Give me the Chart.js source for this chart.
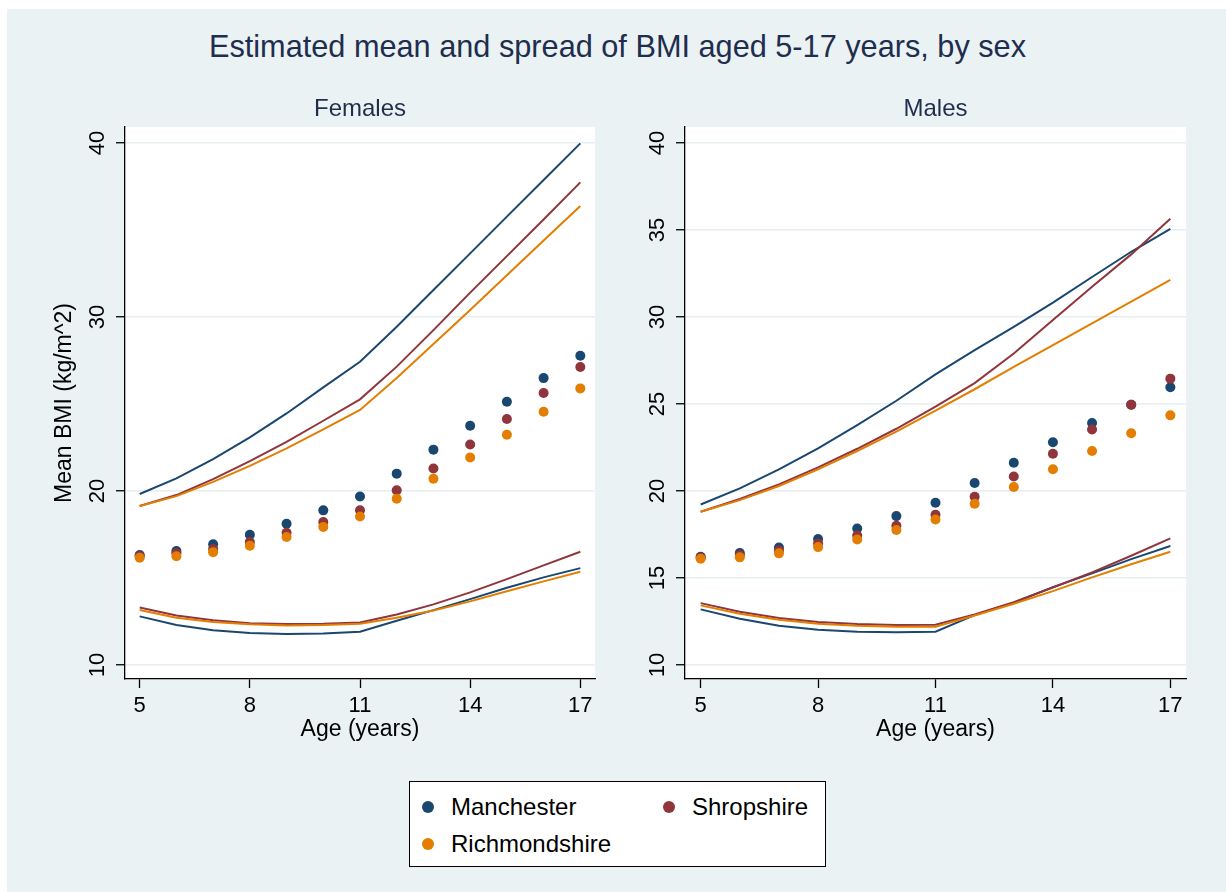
<!DOCTYPE html>
<html>
<head>
<meta charset="utf-8">
<script src="https://cdn.jsdelivr.net/npm/chart.js@4.4.1/dist/chart.umd.min.js"></script>
<style>
  body { margin: 0; background: #fff; font-family: "Liberation Sans", Arial, sans-serif; }
  #frame { position: absolute; left: 7px; top: 9px; width: 1219px; height: 883px; background: #eaf2f3; }
  #title { position: absolute; left: 0; top: 29px; width: 1235px; text-align: center;
           font-size: 30.7px; line-height: 36px; color: #1f2d4e; }
  canvas { position: absolute; }
  #cf { left: 0; top: 92px; }
  #cm { left: 610px; top: 92px; }
  #legend { position: absolute; left: 409px; top: 781px; width: 415px; height: 84px;
            background: #fff; border: 1.5px solid #000; }
  .item { position: absolute; font-size: 24px; line-height: 28px; color: #000; white-space: nowrap; }
  .dot { position: absolute; width: 12px; height: 12px; border-radius: 50%; left: -29px; top: 8px; }
</style>
</head>
<body>
<div id="frame"></div>
<div id="title">Estimated mean and spread of BMI aged 5-17 years, by sex</div>
<canvas id="cf" width="610" height="660"></canvas>
<canvas id="cm" width="616" height="660"></canvas>
<div id="legend"></div>
<script>
const ages = [5, 6, 7, 8, 9, 10, 11, 12, 13, 14, 15, 16, 17];
const xTicks = [5, 8, 11, 14, 17];
const fYTicks = [10, 20, 30, 40];
const mYTicks = [10, 15, 20, 25, 30, 35, 40];

const regions = ['Manchester', 'Shropshire', 'Richmondshire'];
const colors = ['#1a476f', '#90353b', '#e37e00'];

// Females: mean, upper and lower lines
const fManMean = [16.32, 16.55, 16.94, 17.49, 18.12, 18.89, 19.69, 21.00, 22.38, 23.75, 25.13, 26.49, 27.78];
const fShrMean = [16.26, 16.42, 16.67, 17.07, 17.60, 18.22, 18.89, 20.04, 21.30, 22.68, 24.14, 25.63, 27.13];
const fRicMean = [16.17, 16.25, 16.49, 16.86, 17.36, 17.93, 18.54, 19.56, 20.71, 21.93, 23.24, 24.56, 25.90];
const fManUp = [19.83, 20.73, 21.84, 23.08, 24.46, 25.96, 27.43, 29.44, 31.55, 33.66, 35.77, 37.87, 39.98];
const fShrUp = [19.14, 19.77, 20.69, 21.72, 22.83, 24.04, 25.27, 27.15, 29.25, 31.40, 33.50, 35.60, 37.74];
const fRicUp = [19.14, 19.71, 20.53, 21.45, 22.45, 23.54, 24.66, 26.50, 28.45, 30.40, 32.40, 34.40, 36.38];
const fManLo = [12.80, 12.30, 12.00, 11.84, 11.78, 11.82, 11.92, 12.55, 13.16, 13.79, 14.44, 15.04, 15.57];
const fShrLo = [13.31, 12.85, 12.57, 12.41, 12.36, 12.37, 12.45, 12.91, 13.49, 14.18, 14.94, 15.73, 16.51];
const fRicLo = [13.16, 12.72, 12.47, 12.34, 12.28, 12.30, 12.37, 12.72, 13.14, 13.66, 14.24, 14.81, 15.36];

// Males
const mManMean = [16.22, 16.44, 16.76, 17.24, 17.85, 18.56, 19.33, 20.46, 21.63, 22.80, 23.91, 24.96, 25.96];
const mShrMean = [16.18, 16.32, 16.59, 16.99, 17.45, 18.01, 18.64, 19.67, 20.84, 22.14, 23.54, 24.96, 26.46];
const mRicMean = [16.11, 16.19, 16.42, 16.78, 17.22, 17.76, 18.37, 19.27, 20.23, 21.25, 22.30, 23.32, 24.35];
const mManUp = [19.23, 20.15, 21.25, 22.45, 23.79, 25.19, 26.70, 28.10, 29.44, 30.83, 32.30, 33.75, 35.06];
const mShrUp = [18.81, 19.54, 20.38, 21.36, 22.43, 23.58, 24.85, 26.20, 27.90, 29.83, 31.74, 33.60, 35.65];
const mRicUp = [18.81, 19.48, 20.29, 21.25, 22.30, 23.41, 24.62, 25.85, 27.14, 28.39, 29.63, 30.88, 32.13];
const mManLo = [13.20, 12.66, 12.26, 12.03, 11.92, 11.88, 11.92, 12.87, 13.58, 14.48, 15.27, 16.09, 16.84];
const mShrLo = [13.56, 13.06, 12.70, 12.47, 12.36, 12.30, 12.32, 12.91, 13.62, 14.46, 15.33, 16.28, 17.28];
const mRicLo = [13.43, 12.95, 12.60, 12.37, 12.26, 12.20, 12.20, 12.85, 13.52, 14.25, 15.04, 15.79, 16.51];

const titleColor = '#1f2d4e';

const pts = vals => ages.map((a, i) => ({ x: a, y: vals[i] }));

function meanSet(i, vals) {
    return {
        label: regions[i], data: pts(vals), showLine: false,
        pointRadius: 5, pointHoverRadius: 5, pointBorderWidth: 0,
        pointBackgroundColor: colors[i], backgroundColor: colors[i], borderColor: colors[i],
        order: 3 - i
    };
}

function lineSet(i, vals) {
    return {
        label: regions[i] + ' band', data: pts(vals), borderColor: colors[i], borderWidth: 2,
        pointRadius: 0, tension: 0, fill: false, order: 6 - i
    };
}

// white plot region
const plotBg = {
    id: 'plotBg',
    beforeDraw(chart) {
        const { ctx, chartArea: a } = chart;
        ctx.save();
        ctx.fillStyle = '#fff';
        ctx.fillRect(a.left, a.top, a.right - a.left, a.bottom - a.top);
        ctx.restore();
    }
};

function makeChart(id, sub, sets, yTicks, yTitle, padLeft, padRight, yWidth) {
    return new Chart(document.getElementById(id), {
        type: 'line',
        data: { datasets: sets },
        plugins: [plotBg],
        options: {
            responsive: false,
            animation: false,
            layout: { padding: { left: padLeft, right: padRight, top: 0, bottom: 0 } },
            plugins: {
                legend: { display: false },
                tooltip: { enabled: false },
                title: {
                    display: true, text: sub, fullSize: false, color: titleColor,
                    font: { family: 'Liberation Sans', size: 24, weight: 'normal' },
                    padding: { top: 3, bottom: 3.2 }
                }
            },
            scales: {
                x: {
                    type: 'linear', min: 4.6, max: 17.4,
                    afterBuildTicks: s => { s.ticks = xTicks.map(v => ({ value: v })); },
                    afterFit: s => { s.height = 73; },
                    grid: { drawOnChartArea: false, tickLength: 9, tickColor: '#000', tickWidth: 1.3 },
                    border: { color: '#000', width: 1.3 },
                    ticks: { color: '#000', padding: 5, maxRotation: 0, font: { family: 'Liberation Sans', size: 22 } },
                    title: {
                        display: true, text: 'Age (years)', color: '#000',
                        font: { family: 'Liberation Sans', size: 23 }, padding: { top: 0, bottom: 9 }
                    }
                },
                y: {
                    type: 'linear', min: 9.2, max: 40.92,
                    afterBuildTicks: s => { s.ticks = yTicks.map(v => ({ value: v })); },
                    afterFit: s => { s.width = yWidth; },
                    grid: { color: '#e6eef1', lineWidth: 1.5, tickLength: 9, tickColor: '#000', tickWidth: 1.3 },
                    border: { color: '#000', width: 1.3 },
                    ticks: {
                        color: '#000', padding: 6, minRotation: 90, maxRotation: 90, crossAlign: 'center',
                        font: { family: 'Liberation Sans', size: 22 }
                    },
                    title: {
                        display: yTitle, text: 'Mean BMI (kg/m^2)', color: '#000',
                        font: { family: 'Liberation Sans', size: 23 }, padding: { top: 3, bottom: 0 }
                    }
                }
            }
        }
    });
}

makeChart('cf', 'Females', [
    meanSet(0, fManMean), meanSet(1, fShrMean), meanSet(2, fRicMean),
    lineSet(0, fManUp), lineSet(1, fShrUp), lineSet(2, fRicUp),
    lineSet(0, fManLo), lineSet(1, fShrLo), lineSet(2, fRicLo)
], fYTicks, true, 48, 15, 77);

makeChart('cm', 'Males', [
    meanSet(0, mManMean), meanSet(1, mShrMean), meanSet(2, mRicMean),
    lineSet(0, mManUp), lineSet(1, mShrUp), lineSet(2, mRicUp),
    lineSet(0, mManLo), lineSet(1, mShrLo), lineSet(2, mRicLo)
], mYTicks, false, 0, 40, 75);

// legend spanning both panels
const legend = document.getElementById('legend');
const spots = [[41, 11], [282, 11], [41, 48]];
regions.forEach((name, i) => {
    const el = document.createElement('div');
    el.className = 'item';
    el.style.left = spots[i][0] + 'px';
    el.style.top = spots[i][1] + 'px';
    el.innerHTML = '<span class="dot" style="background:' + colors[i] + '"></span>' + name;
    legend.appendChild(el);
});
</script>
</body>
</html>
